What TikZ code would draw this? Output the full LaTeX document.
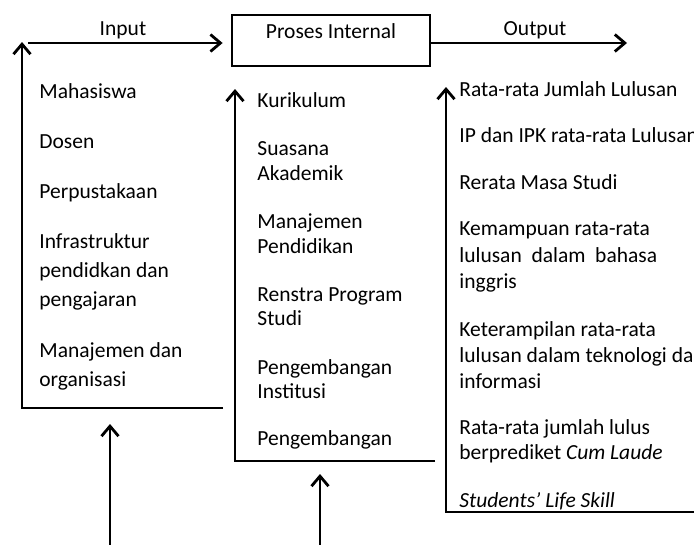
\documentclass[tikz,border=0pt]{standalone}
\usepackage{fontspec}
\setmainfont{Carlito}
\usetikzlibrary{arrows.meta}
\begin{document}
\begin{tikzpicture}[x=1pt,y=-1pt,
  line width=2.8pt,
  arr/.style={-{Straight Barb[length=10pt,width=17pt]}},
  txt/.style={anchor=base west,inner sep=0pt,font=\fontsize{21.5}{25}\selectfont},
  lbl/.style={anchor=base,inner sep=0pt,font=\fontsize{21.5}{25}\selectfont},
  procbox/.style={draw,minimum width=198pt,minimum height=51pt,inner sep=0pt}]
\useasboundingbox (0,0) rectangle (694,544);
\clip (0,0) rectangle (694,544);
% top row
\node[procbox] (proc) at (331,40.5) {};
\node[lbl] (proct) at (331,38) {Proses Internal};
\node[lbl] (inl) at (123,35) {Input};
\node[lbl] (outl) at (535,35) {Output};
\coordinate (inS) at (28,43);
\coordinate (outE) at (627,43);
\draw[arr] (inS) -- ([xshift=-8pt]inS -| proc.west);
\draw[arr] (proc.east |- outE) -- (outE);
% left column frame
\coordinate (lA) at (223,408);
\coordinate (lB) at (22,408);
\coordinate (lT) at (22,42);
\draw[arr] (lA) -- (lB) -- (lT);
% middle column frame
\coordinate (mA) at (435,461);
\coordinate (mB) at (235,461);
\coordinate (mT) at (235,89);
\draw[arr] (mA) -- (mB) -- (mT);
% right column frame
\coordinate (rA) at (700,512);
\coordinate (rB) at (446,512);
\coordinate (rT) at (446,87);
\draw[arr] (rA) -- (rB) -- (rT);
% bottom arrows
\coordinate (b1S) at (110,550);
\coordinate (b1T) at (110,424);
\coordinate (b2S) at (320,550);
\coordinate (b2T) at (320,474);
\draw[arr] (b1S) -- (b1T);
\draw[arr] (b2S) -- (b2T);
% left texts
\node[txt] (l1) at (38,98) {Mahasiswa};
\node[txt] (l2) at (38,148) {Dosen};
\node[txt] (l3) at (38,198) {Perpustakaan};
\node[txt] (l4a) at (38,248) {Infrastruktur};
\node[txt] (l4b) at (38,277) {pendidkan dan};
\node[txt] (l4c) at (38,306) {pengajaran};
\node[txt] (l5a) at (38,357) {Manajemen dan};
\node[txt] (l5b) at (38,386) {organisasi};
% middle texts
\node[txt] (m1) at (256,107) {Kurikulum};
\node[txt] (m2a) at (256,155) {Suasana};
\node[txt] (m2b) at (256,180) {Akademik};
\node[txt] (m3a) at (256,228) {Manajemen};
\node[txt] (m3b) at (256,253) {Pendidikan};
\node[txt] (m4a) at (256,301) {Renstra Program};
\node[txt] (m4b) at (256,325) {Studi};
\node[txt] (m5a) at (256,374) {Pengembangan};
\node[txt] (m5b) at (256,398) {Institusi};
\node[txt] (m6) at (256,445) {Pengembangan};
% right texts
\node[txt] (r1) at (458,96) {Rata-rata Jumlah Lulusan};
\node[txt] (r2) at (458,142) {IP dan IPK rata-rata Lulusan};
\node[txt] (r3) at (458,189) {Rerata Masa Studi};
\node[txt] (r4a) at (458,235) {Kemampuan rata-rata};
\node[txt] (r4b) at (458,262) {lulusan\ \ dalam\ \ bahasa};
\node[txt] (r4c) at (458,288) {inggris};
\node[txt] (r5a) at (458,336) {Keterampilan rata-rata};
\node[txt] (r5b) at (458,362) {lulusan dalam teknologi dan};
\node[txt] (r5c) at (458,388) {informasi};
\node[txt] (r6a) at (458,434) {Rata-rata jumlah lulus};
\node[txt] (r6b) at (458,459) {berprediket \textit{Cum Laude}};
\node[txt] (r7) at (458,507) {\textit{Students’ Life Skill}};
\end{tikzpicture}
\end{document}
